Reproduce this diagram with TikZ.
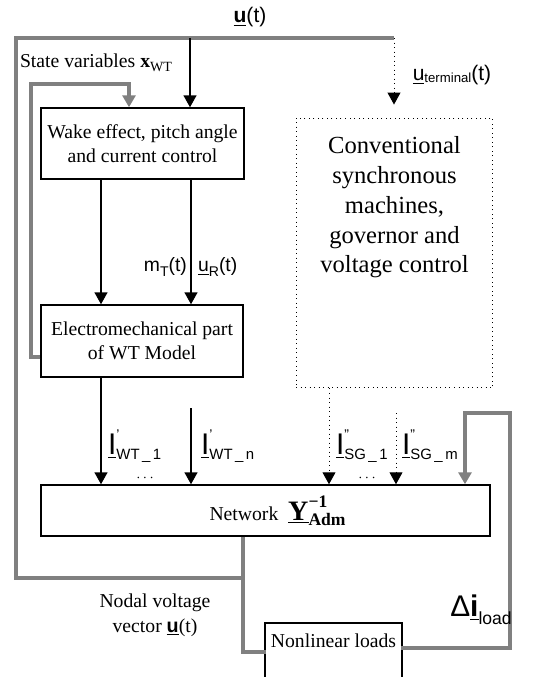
\documentclass[tikz,border=0pt]{standalone}
\usepackage{fontspec}
\setmainfont{Liberation Serif}
\setsansfont{Liberation Sans}
\usetikzlibrary{arrows.meta,positioning}

\tikzset{
  blk/.style={draw,line width=0.03cm,align=center,font=\fontsize{11.2}{13.6}\selectfont},
  arr/.style={line width=0.03cm,-{Triangle[width=0.26cm,length=0.24cm]}},
  dotarr/.style={dotted,line width=0.02cm,-{Triangle[width=0.26cm,length=0.24cm]}},
  fb/.style={gray,line width=0.08cm},
  fbarr/.style={fb,-{Triangle[width=0.26cm,length=0.24cm]}},
  lbl/.style={font=\sffamily\fontsize{11}{13}\selectfont,inner sep=1pt},
  txt/.style={font=\fontsize{11.2}{14}\selectfont,align=center,inner sep=1pt}
}

% current phasor label: I with prime, subscript name
\newcommand{\curlbl}[3]{$\underline{\hbox{\fontsize{17}{17}\selectfont I}}^{\hbox{\fontsize{8}{8}\selectfont #1}}_{\hbox{\fontsize{8.5}{9}\selectfont #2\,\_\,#3}}$}

\begin{document}
\begin{tikzpicture}[x=0.02cm,y=-0.02cm]
\clip (0,0) rectangle (541,677);

% blocks
\node[blk,minimum width=4.06cm,minimum height=1.42cm] (wake) at (142.5,143.5) {Wake effect, pitch angle\\and current control};
\node[blk,minimum width=4.04cm,minimum height=1.44cm] (elec) at (142,341) {Electromechanical part\\of WT Model};
\node[draw,dotted,line width=0.02cm,minimum width=3.94cm,minimum height=5.4cm] (conv) at (394.5,253) {};
\node[font=\fontsize{14}{17}\selectfont,align=center,inner sep=0pt,anchor=north] (convtxt) at (394.5,136) {Conventional\\synchronous\\machines,\\governor and\\voltage control};
\node[blk,minimum width=8.98cm,minimum height=1.02cm] (net) at (265.5,510.5)
  {\hspace*{0.5cm}Network \ $\underline{\hbox{\fontsize{16}{16}\selectfont\bfseries Y}}^{\hbox{\fontsize{10}{10}\selectfont\bfseries \char"2212 1}}_{\hbox{\fontsize{10}{10}\selectfont\bfseries Adm}}$};
\node[draw,line width=0.03cm,font=\fontsize{11.2}{13}\selectfont,minimum width=2.7cm,text height=11pt,text depth=1.2cm,anchor=north] (loads) at (333.5,622) {Nonlinear loads};

% junctions
\coordinate (tl) at (16,38);
\coordinate (tr) at (394,38);
\coordinate (ua) at (190,38);
\coordinate (nb) at (243,578);
\coordinate (ll) at (266,652);
\coordinate (lr) at (401,648);
\coordinate (rt) at (510,413);
\coordinate (ri) at (465,413);
\coordinate (sv1) at (31,357);
\coordinate (sv2) at (31,84);
\coordinate (sx) at (129,84);
\coordinate (a1) at (101,0);
\coordinate (a2) at (191,0);
\coordinate (wn) at (191,408);
\coordinate (s1) at (329,0);
\coordinate (sm) at (396,413);

% voltage feedback loop
\draw[fb] (net.south -| nb) -- (nb) -| (tl) -- (tr);
\draw[fb] (nb) |- (ll);
\draw[fbarr] (lr) -| (rt) -- (ri) -- (net.north -| ri);
\draw[fbarr] (elec.west |- sv1) -- (sv1) -- (sv2) -- (sx) -- (wake.north -| sx);

% signal arrows
\draw[arr] (ua) -- (wake.north -| ua);
\draw[dotarr,shorten >=0.26cm] (tr) -- (conv.north -| tr);
\draw[arr] (wake.south -| a1) -- (elec.north -| a1);
\draw[arr] (wake.south -| a2) -- (elec.north -| a2);
\draw[arr] (elec.south -| a1) -- (net.north -| a1);
\draw[arr] (wn) -- (net.north -| wn);
\draw[dotarr] (conv.south -| s1) -- (net.north -| s1);
\draw[dotarr] (sm) -- (net.north -| sm);

% labels
\node[lbl,font=\sffamily\fontsize{12}{14}\selectfont] (ulbl) at (250,17) {\underline{\textbf{u}}(t)};
\node[lbl,font=\sffamily\fontsize{12}{14}\selectfont] (utlbl) at (452,75) {\underline{u}{\fontsize{7.5}{8}\selectfont\raisebox{-0.35ex}{terminal}}(t)};
\node[txt] (svlbl) at (96,63) {State variables $\mathbf{x}$\raisebox{-0.4ex}{\fontsize{8}{8}\selectfont WT}};
\node[lbl,anchor=east] (mlbl) at (189,267) {m\raisebox{-0.4ex}{\fontsize{8}{8}\selectfont T}(t)};
\node[lbl,anchor=west] (urlbl) at (196,267) {\underline{u}\raisebox{-0.4ex}{\fontsize{8}{8}\selectfont R}(t)};
\node[lbl,anchor=west] (w1lbl) at (106,446) {\curlbl{\char"0027}{WT}{1}};
\node[lbl,anchor=west] (wnlbl) at (199,446) {\curlbl{\char"0027}{WT}{n}};
\node[lbl,anchor=west] (g1lbl) at (334,446) {\curlbl{\char"0022}{SG}{1}};
\node[lbl,anchor=west] (gmlbl) at (400,446) {\curlbl{\char"0022}{SG}{m}};
\node[lbl,font=\fontsize{8}{8}\selectfont] (dots1) at (145,478) {$\cdots$};
\node[lbl,font=\fontsize{8}{8}\selectfont] (dots2) at (367,478) {$\cdots$};
\node[txt] (nvlbl) at (155,615) {Nodal voltage\\vector {\sffamily\underline{\textbf{u}}}(t)};
\node[lbl,font=\sffamily\fontsize{17}{17}\selectfont] (dilbl) at (481,610) {\char"0394\underline{\textbf{i}}\raisebox{-0.5ex}{\fontsize{10}{10}\selectfont load}};

\end{tikzpicture}
\end{document}
